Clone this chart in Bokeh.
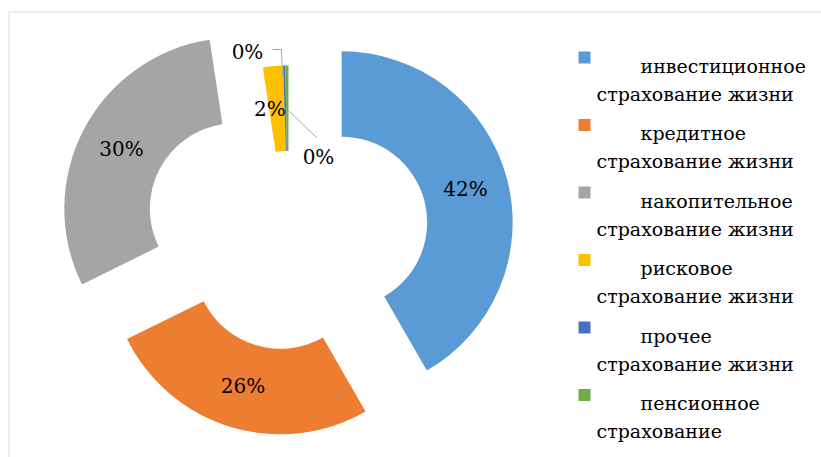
import math
from bokeh.plotting import figure
from bokeh.models import Range1d, ColumnDataSource
from bokeh.core.properties import value
from bokeh.embed import file_html
from bokeh.resources import INLINE

# ---- data ----
categories = ["инвестиционное страхование жизни",
              "кредитное страхование жизни",
              "накопительное страхование жизни",
              "рисковое страхование жизни",
              "прочее страхование жизни",
              "пенсионное страхование"]
shares = [41.7, 26.0, 29.9, 1.9, 0.2, 0.3]
colors = ["#5B9BD5", "#ED7D31", "#A5A5A5", "#FFC000", "#4472C4", "#70AD47"]
explode = [55, 28, 60, 0, 0, 0]   # px offset of each slice (style)

# ---- layout (page pixel coords) ----
W, H = 821, 457
def Y(sy):
    return H - sy

FONT = value("DejaVu Serif")
cx, cy = 288, Y(236)
R_OUT, R_IN = 171, 85.5

p = figure(width=W, height=H, x_range=Range1d(0, W), y_range=Range1d(0, H),
           output_backend="svg", toolbar_location=None, min_border=0,
           x_axis_location=None, y_axis_location=None)
p.grid.grid_line_color = None
p.outline_line_color = None
p.background_fill_color = "white"
p.border_fill_color = "white"

# chart border
p.quad(left=8.5, right=900, top=Y(11.5), bottom=Y(520), fill_color=None,
       line_color="#D9D9D9", line_width=1)

total = sum(shares)
xs, ys, st, en, lx, ly, lbl = [], [], [], [], [], [], []
acc = 0.0
for v, e in zip(shares, explode):
    a1 = acc / total * 360.0
    a2 = (acc + v) / total * 360.0
    acc += v
    mid = math.radians((a1 + a2) / 2)
    x0 = cx + e * math.sin(mid)
    y0 = cy + e * math.cos(mid)
    xs.append(x0); ys.append(y0)
    st.append(math.radians(90 - a1)); en.append(math.radians(90 - a2))
    rm = (R_OUT + R_IN) / 2
    lx.append(x0 + rm * math.sin(mid)); ly.append(y0 + rm * math.cos(mid))
    lbl.append(f"{round(v / total * 100)}%")

src = ColumnDataSource(dict(x=xs, y=ys, s=st, e=en, c=colors))
p.annular_wedge(x="x", y="y", inner_radius=R_IN, outer_radius=R_OUT,
                start_angle="s", end_angle="e", direction="clock",
                fill_color="c", line_color=None, source=src)

# label positions for the tiny slices use leader lines (layout)
lx[3] -= 7
lx[4], ly[4] = 247, Y(51)
lx[5], ly[5] = 318, Y(156)
p.line(x=[272, 281, 282], y=[Y(49), Y(49), Y(75)], line_color="#A6A6A6", line_width=1)
p.line(x=[288, 316], y=[Y(110), Y(137)], line_color="#A6A6A6", line_width=1)

p.text(x=lx, y=ly, text=lbl, text_font=FONT, text_font_size="20px",
       text_align="center", text_baseline="middle", text_color="#000000")

# legend
sq_x = 584
line1 = [c.split(" ", 1)[0] for c in categories]
line2 = [c.split(" ", 1)[1] for c in categories]
sq_y = [57 + 67.5 * i for i in range(len(categories))]
p.rect(x=[sq_x] * len(categories), y=[Y(v) for v in sq_y], width=12, height=12,
       fill_color=colors, line_color=None)
p.text(x=[640] * len(categories), y=[Y(v + 8) for v in sq_y], text=line1,
       text_font=FONT, text_font_size="19px", text_align="left",
       text_baseline="alphabetic", text_color="#000000")
p.text(x=[596] * len(categories), y=[Y(v + 36) for v in sq_y], text=line2,
       text_font=FONT, text_font_size="19px", text_align="left",
       text_baseline="alphabetic", text_color="#000000")

open("out.html", "w").write(file_html(p, INLINE))
